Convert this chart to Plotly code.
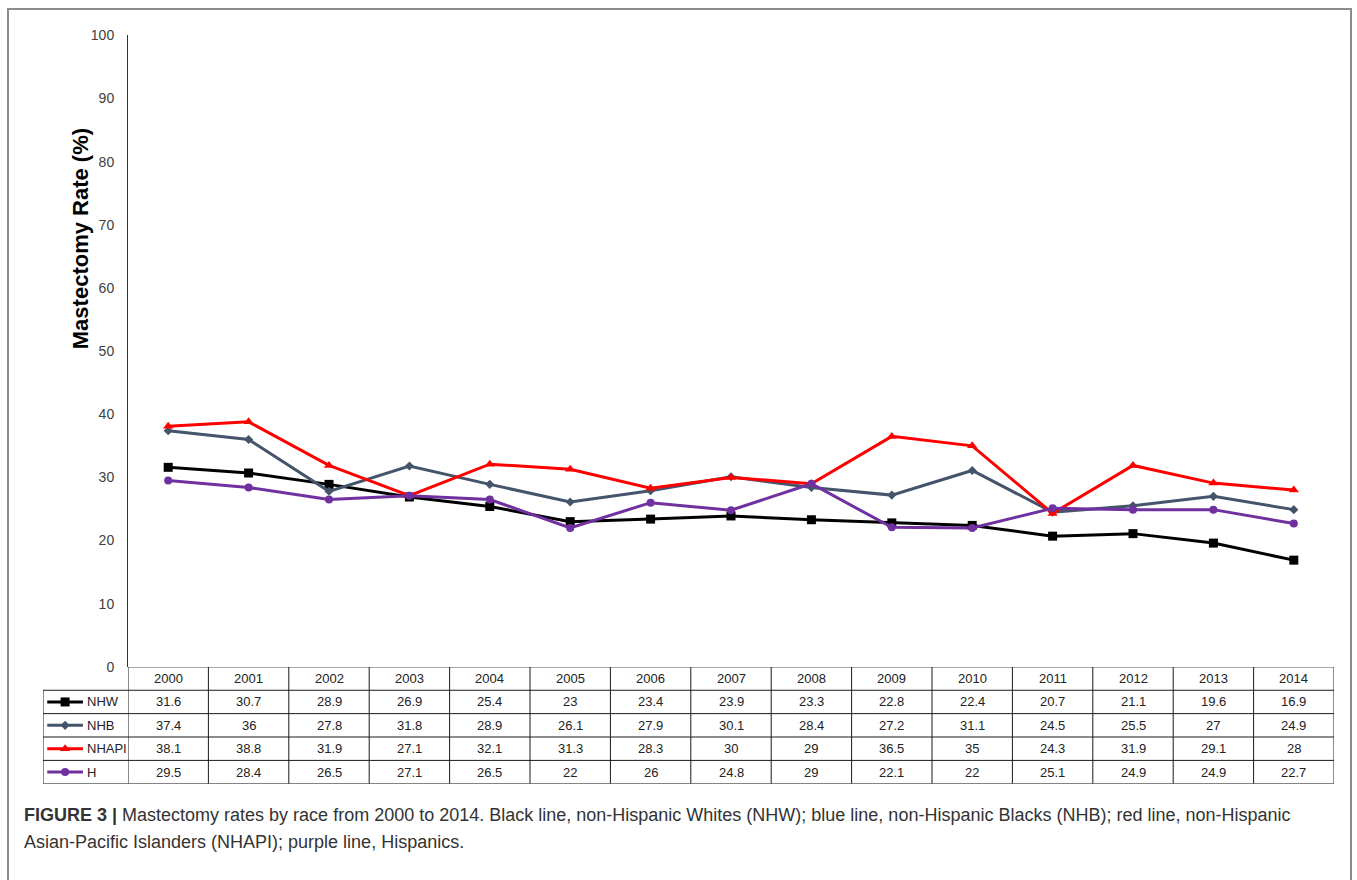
import plotly.graph_objects as go

# ---------------- data ----------------
years = [2000, 2001, 2002, 2003, 2004, 2005, 2006, 2007, 2008, 2009, 2010, 2011, 2012, 2013, 2014]
series_names = ["NHW", "NHB", "NHAPI", "H"]
nhw = [31.6, 30.7, 28.9, 26.9, 25.4, 23, 23.4, 23.9, 23.3, 22.8, 22.4, 20.7, 21.1, 19.6, 16.9]
nhb = [37.4, 36, 27.8, 31.8, 28.9, 26.1, 27.9, 30.1, 28.4, 27.2, 31.1, 24.5, 25.5, 27, 24.9]
nhapi = [38.1, 38.8, 31.9, 27.1, 32.1, 31.3, 28.3, 30, 29, 36.5, 35, 24.3, 31.9, 29.1, 28]
hisp = [29.5, 28.4, 26.5, 27.1, 26.5, 22, 26, 24.8, 29, 22.1, 22, 25.1, 24.9, 24.9, 22.7]
y_ticks = [0, 10, 20, 30, 40, 50, 60, 70, 80, 90, 100]
y_title = "Mastectomy Rate (%)"
caption_1 = ("<b>FIGURE 3 |</b> Mastectomy rates by race from 2000 to 2014. Black line, non-Hispanic Whites (NHW); "
             "blue line, non-Hispanic Blacks (NHB); red line, non-Hispanic")
caption_2 = "Asian-Pacific Islanders (NHAPI); purple line, Hispanics."

# ---------------- styles ----------------
W, H = 1357, 880
colors = ["#000000", "#44546A", "#FF0000", "#7030A0"]
symbols = ["square", "diamond", "triangle-up", "circle"]
msizes = [9, 7, 9, 8]
values = [nhw, nhb, nhapi, hisp]

def px(x):
    return x / W

def py(y):
    # vertical placement helper (small correction for the capture's vertical fit)
    yy = (y - 7.6) / 0.9826
    return 1 - yy / H

PLOT_L, PLOT_R = 128, 1334
PLOT_T, PLOT_B = 35, 667
TAB_T, TAB_B = 667, 784
LEG_L = 43
NROWS = 5
FONT = "Liberation Sans, Arial, sans-serif"

fig = go.Figure()

for name, vals, c, s, ms in zip(series_names, values, colors, symbols, msizes):
    fig.add_trace(go.Scatter(
        x=years, y=vals, mode="lines+markers", name=name,
        line=dict(color=c, width=3),
        marker=dict(symbol=s, size=ms, color=c),
        xaxis="x", yaxis="y", showlegend=False, cliponaxis=False,
    ))

# legend samples inside the table's first column
for i, (name, c, s, ms) in enumerate(zip(series_names, colors, symbols, msizes)):
    row = i + 1
    fig.add_trace(go.Scatter(
        x=[0.05, 0.47], y=[row, row], mode="lines",
        line=dict(color=c, width=3), xaxis="x3", yaxis="y2", showlegend=False,
    ))
    fig.add_trace(go.Scatter(
        x=[0.26], y=[row], mode="markers",
        marker=dict(symbol=s, size=ms, color=c), xaxis="x3", yaxis="y2",
        showlegend=False, cliponaxis=False,
    ))

annotations = []
table_font = dict(family=FONT, size=13, color="#222222")
# header row
for yr in years:
    annotations.append(dict(x=yr, y=0, xref="x", yref="y2", text=str(yr),
                            showarrow=False, font=table_font))
# data rows
for i, (name, vals) in enumerate(zip(series_names, values)):
    row = i + 1
    for yr, v in zip(years, vals):
        annotations.append(dict(x=yr, y=row, xref="x", yref="y2", text=f"{v:g}",
                                showarrow=False, font=table_font))
    annotations.append(dict(x=0.49, y=row, xref="x3", yref="y2", text=name,
                            xanchor="left", showarrow=False, font=table_font))

# y title
annotations.append(dict(x=px(80), y=py(239), xref="paper", yref="paper", text="<b>" + y_title + "</b>",
                        textangle=-90, showarrow=False, xanchor="center", yanchor="middle",
                        font=dict(family=FONT, size=22, color="#000000")))

cap_font = dict(family=FONT, size=18, color="#333333")
annotations.append(dict(x=px(22), y=py(815), xref="paper", yref="paper", text=caption_1,
                        xanchor="left", yanchor="middle", showarrow=False, font=cap_font))
annotations.append(dict(x=px(22), y=py(842), xref="paper", yref="paper", text=caption_2,
                        xanchor="left", yanchor="middle", showarrow=False, font=cap_font))

shapes = []
grid = dict(color="#1a1a1a", width=1)
# vertical lines of table
for k in range(len(years) + 1):
    xv = years[0] - 0.5 + k
    shapes.append(dict(type="line", xref="x", yref="y2", x0=xv, x1=xv, y0=-0.5, y1=NROWS - 0.5, line=grid))
shapes.append(dict(type="line", xref="x3", yref="y2", x0=0, x1=0, y0=0.5, y1=NROWS - 0.5, line=grid))
# horizontal lines
shapes.append(dict(type="line", xref="x", yref="y2", x0=years[0] - 0.5, x1=years[-1] + 0.5,
                   y0=-0.5, y1=-0.5, line=grid))
for r in range(1, NROWS + 1):
    yv = r - 0.5
    shapes.append(dict(type="line", xref="paper", yref="y2", x0=px(LEG_L), x1=px(PLOT_R),
                       y0=yv, y1=yv, line=grid))
# outer frame
shapes.append(dict(type="rect", xref="paper", yref="paper", x0=px(8), x1=px(1351), y0=-0.05,
                   y1=1 - 1.0 / H, line=dict(color="#8c8c8c", width=2)))

fig.update_layout(
    width=W, height=H,
    margin=dict(l=0, r=0, t=0, b=0),
    paper_bgcolor="#ffffff", plot_bgcolor="#ffffff",
    showlegend=False,
    xaxis=dict(domain=[px(PLOT_L), px(PLOT_R)], range=[years[0] - 0.5, years[-1] + 0.5],
               showticklabels=False, showgrid=False, zeroline=False, showline=False, ticks="",
               anchor="y", fixedrange=True),
    yaxis=dict(domain=[py(PLOT_B), py(PLOT_T)], range=[0, 100], tickvals=y_ticks,
               showgrid=False, zeroline=False, showline=True, linecolor="#333333", linewidth=1,
               ticks="", ticklabelstandoff=10,
               tickfont=dict(family=FONT, size=14, color="#404040"),
               anchor="x", fixedrange=True),
    xaxis3=dict(domain=[px(LEG_L), px(PLOT_L)], range=[0, 1], visible=False, anchor="y2", fixedrange=True),
    yaxis2=dict(domain=[py(TAB_B), py(TAB_T)], range=[NROWS - 0.5, -0.5], visible=False,
                anchor="x3", fixedrange=True),
    annotations=annotations,
    shapes=shapes,
)

post = (
    "document.documentElement.style.margin='0px';"
    "document.documentElement.style.overflow='hidden';"
    "document.body.style.margin='0px';"
    "document.body.style.overflow='hidden';"
    "var gd=document.getElementById('{plot_id}');"
    "gd.style.position='fixed';gd.style.left='0px';gd.style.top='0px';"
)
fig.write_html("out.html", config={"displayModeBar": False}, post_script=post)
